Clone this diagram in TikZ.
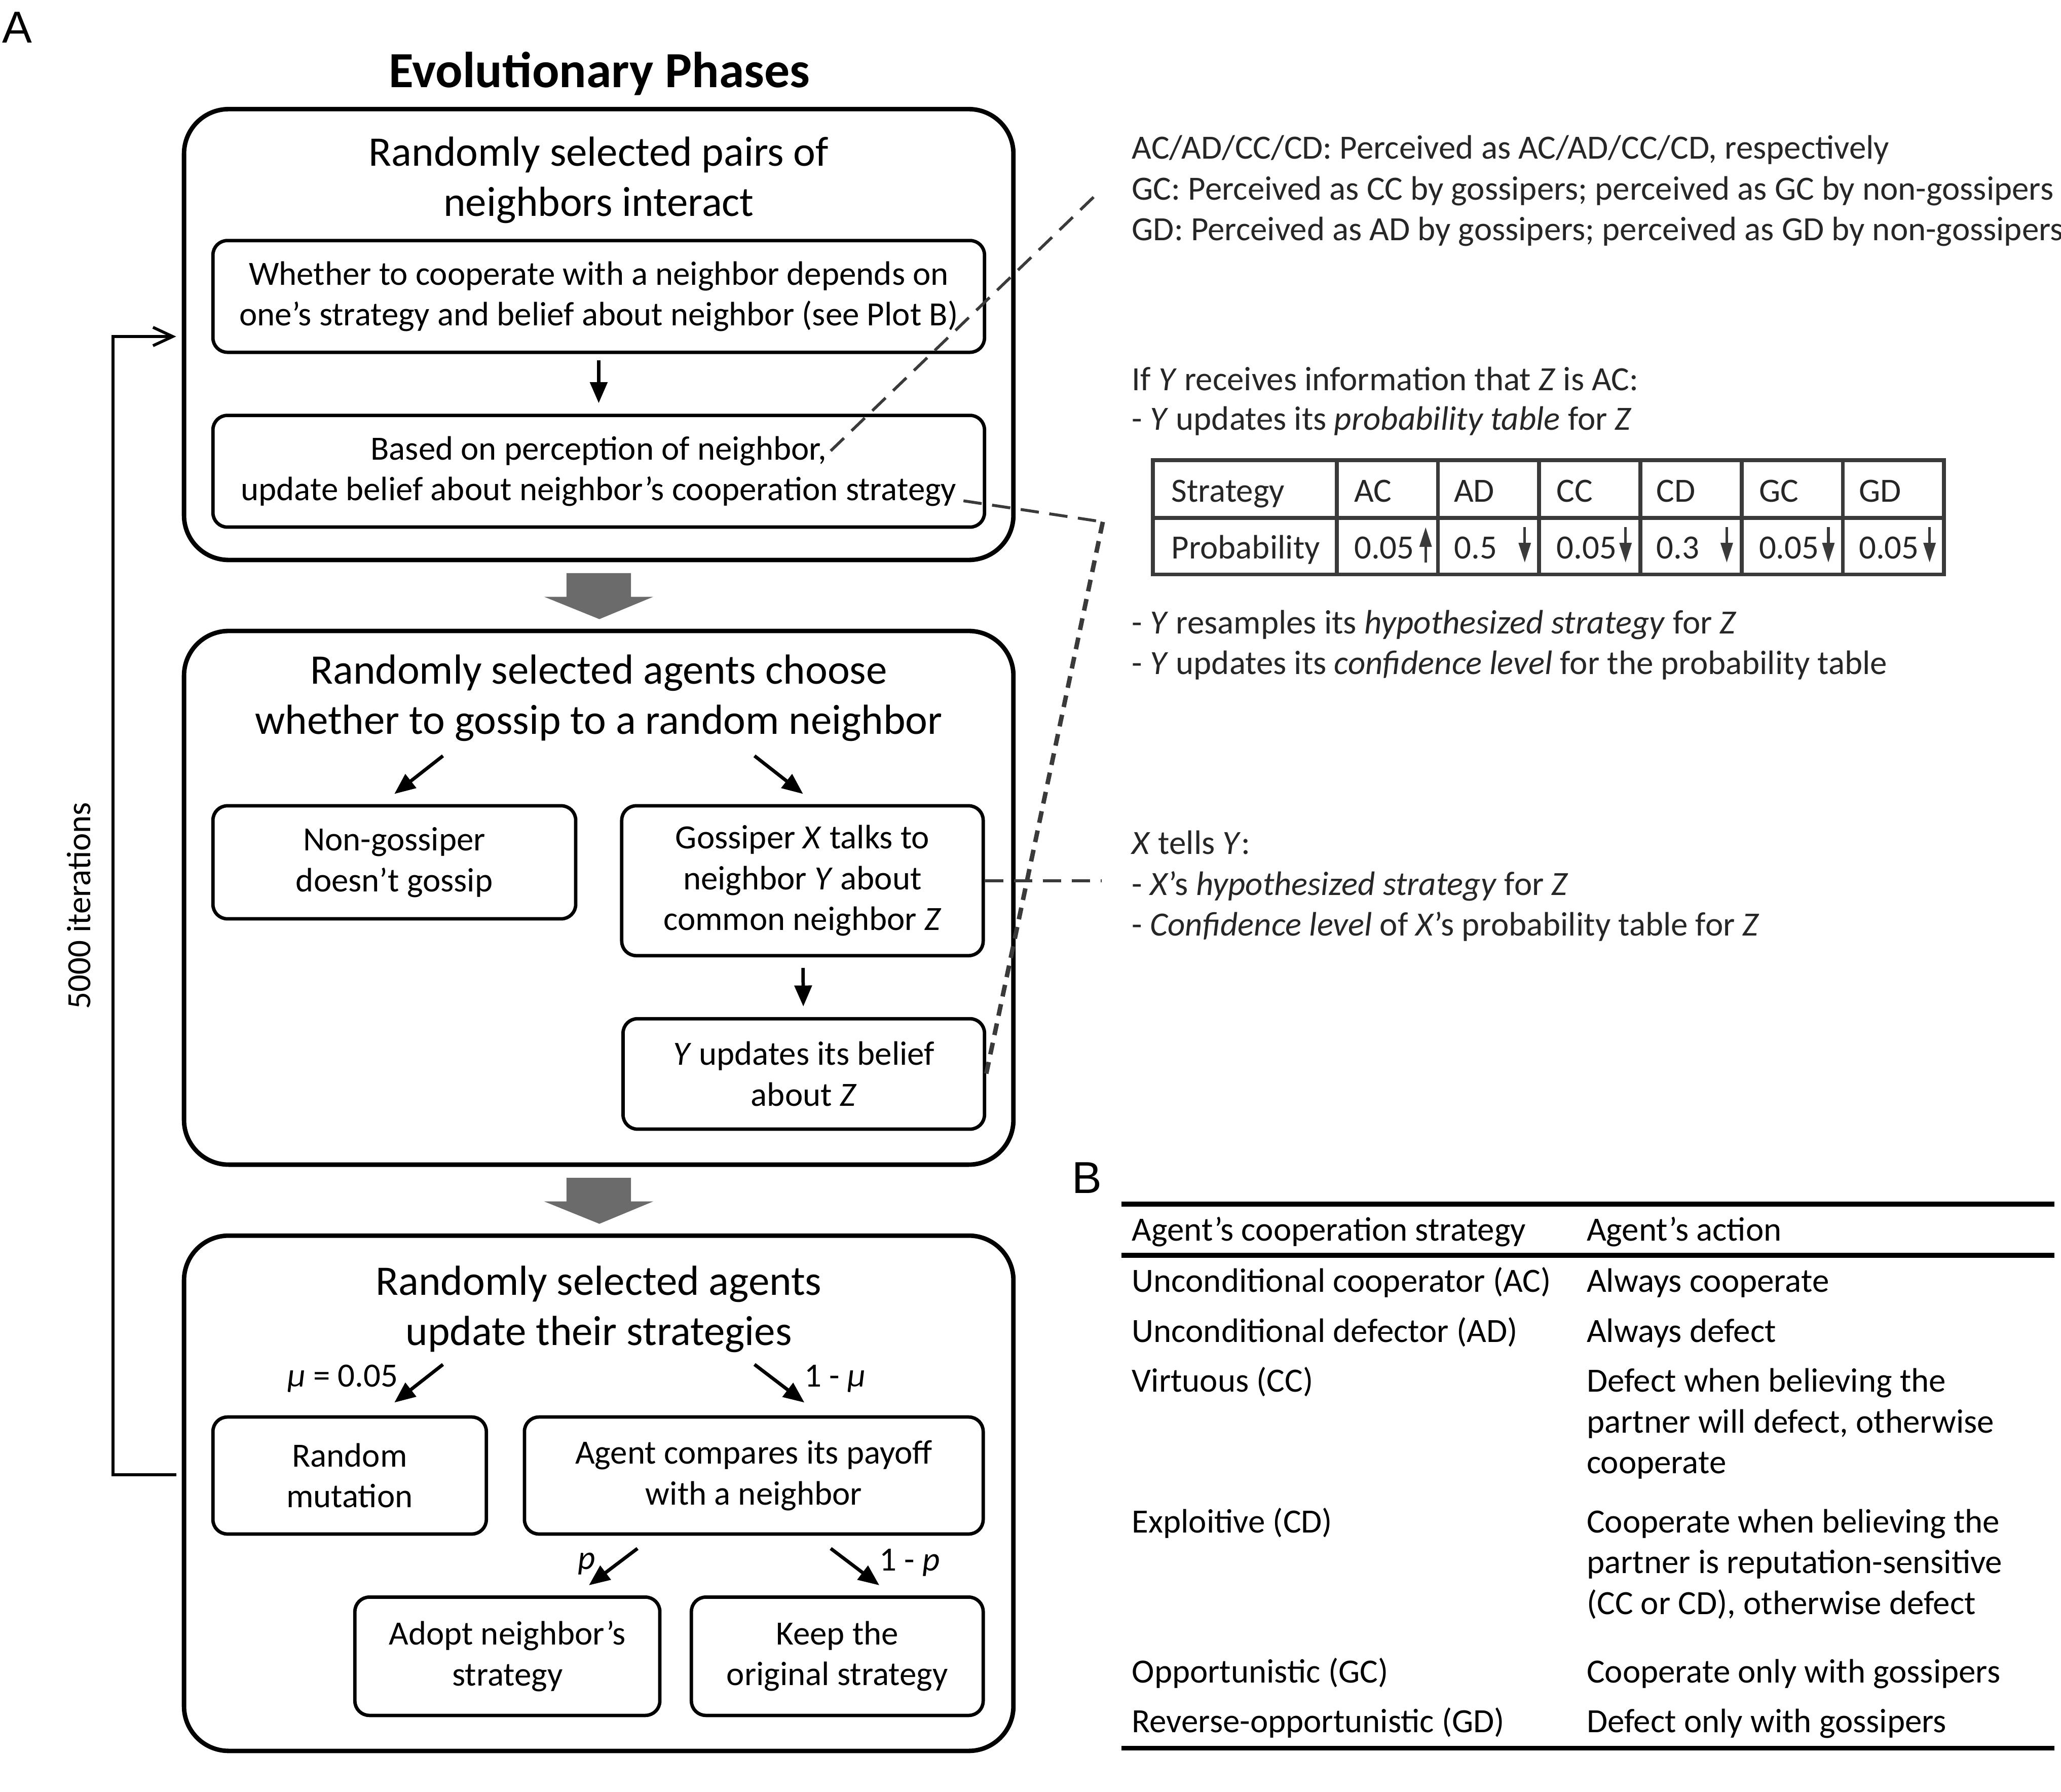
\documentclass[tikz,border=0pt]{standalone}
\usepackage{fontspec}
\setmainfont{Carlito}
\newfontfamily\panelfont{Liberation Sans}
\usetikzlibrary{arrows.meta}
\definecolor{blockgray}{RGB}{107, 107, 107}
\definecolor{notegray}{RGB}{38, 38, 38}
\definecolor{rulegray}{RGB}{58, 58, 58}

\begin{document}
\begin{tikzpicture}[x=1pt, y=-1pt,
    phase/.style={draw, line width=3.4pt, rounded corners=34pt},
    actbox/.style={draw, line width=2.6pt, rounded corners=11pt, align=center, font=\fontsize{25.8}{31}\selectfont},
    headtext/.style={align=center, font=\fontsize{32}{38}\selectfont},
    flow/.style={line width=2.6pt, -{Triangle[length=16pt, width=13pt]}},
    edgelabel/.style={inner sep=0pt, font=\fontsize{25.8}{31}\selectfont},
    note/.style={anchor=base west, inner sep=0pt, text=notegray, font=\fontsize{25.8}{31}\selectfont},
    rowtext/.style={anchor=base west, inner sep=0pt, font=\fontsize{25.8}{31}\selectfont},
    link/.style={dashed, dash pattern=on 14pt off 8pt, line width=2.2pt, draw=rulegray},
    tabrule/.style={line width=3pt, draw=rulegray},
    tabarrow/.style={line width=2pt, draw=rulegray, fill=rulegray, -{Triangle[length=15pt, width=9pt]}}]
  \useasboundingbox (0,0) rectangle (1568,1363);

  % panel labels and title
  \node[font=\panelfont\fontsize{34}{34}\selectfont] (labA) at (13,21) {A};
  \node[font=\panelfont\fontsize{34}{34}\selectfont] (labB) at (827,896) {B};
  \node[font=\bfseries\fontsize{38.5}{44}\selectfont] (title) at (456,56) {Evolutionary Phases};

  % phase 1
  \node[phase, minimum width=631pt, minimum height=343pt] (phase1) at (455.5,254.5) {};
  \node[headtext] (head1) at (455.5,137) {Randomly selected pairs of\\neighbors interact};
  \node[actbox, minimum width=587pt, minimum height=85pt] (play) at (455.5,225.5) {Whether to cooperate with a neighbor depends on\\one’s strategy and belief about neighbor (see Plot B)};
  \node[actbox, minimum width=587pt, minimum height=85pt] (perceive) at (455.5,358.5) {Based on perception of neighbor,\\update belief about neighbor’s cooperation strategy};
  \draw[flow, shorten <=5pt, shorten >=8pt] (play) -- (perceive);

  % phase 2
  \node[phase, minimum width=631pt, minimum height=406pt] (phase2) at (455.5,683) {};
  \node[headtext] (head2) at (455.5,531) {Randomly selected agents choose\\whether to gossip to a random neighbor};
  \node[actbox, minimum width=276pt, minimum height=86pt] (nongos) at (300,656) {Non-gossiper\\doesn’t gossip};
  \node[actbox, minimum width=275pt, minimum height=114pt] (gossiper) at (610.5,670) {Gossiper \textit{X} talks to\\neighbor \textit{Y} about\\common neighbor \textit{Z}};
  \node[actbox, minimum width=275pt, minimum height=84pt] (ybelief) at (611.5,817) {\textit{Y} updates its belief\\about \textit{Z}};
  \coordinate (g1s) at (337,575);
  \coordinate (g1e) at (300,604);
  \coordinate (g2s) at (574,575);
  \coordinate (g2e) at (611,604);
  \draw[flow] (g1s) -- (g1e);
  \draw[flow] (g2s) -- (g2e);
  \draw[flow, shorten <=8pt, shorten >=8pt] (gossiper) -- (ybelief);

  % phase 3
  \node[phase, minimum width=631pt, minimum height=392pt] (phase3) at (455.5,1136) {};
  \node[headtext] (head3) at (455.5,996) {Randomly selected agents\\update their strategies};
  \node[actbox, minimum width=208pt, minimum height=89pt] (mutate) at (266,1122.5) {Random\\mutation};
  \node[actbox, minimum width=349pt, minimum height=89pt] (compare) at (573.5,1122.5) {Agent compares its payoff\\with a neighbor};
  \node[actbox, minimum width=232pt, minimum height=90pt] (adopt) at (386,1260) {Adopt neighbor’s\\strategy};
  \node[actbox, minimum width=222pt, minimum height=90pt] (keep) at (637,1260) {Keep the\\original strategy};
  \coordinate (m1s) at (337,1038);
  \coordinate (m1e) at (300,1067);
  \coordinate (m2s) at (574,1038);
  \coordinate (m2e) at (612,1067);
  \coordinate (p1s) at (485,1178);
  \coordinate (p1e) at (448,1206);
  \coordinate (p2s) at (632,1178);
  \coordinate (p2e) at (669,1206);
  \draw[flow] (m1s) -- (m1e);
  \draw[flow] (m2s) -- (m2e);
  \draw[flow] (p1s) -- (p1e);
  \draw[flow] (p2s) -- (p2e);
  \node[edgelabel, anchor=base east] (mu) at (303,1055) {\textit{μ} = 0.05};
  \node[edgelabel, anchor=base west] (notmu) at (612,1055) {1 - \textit{μ}};
  \node[edgelabel, anchor=base east] (pp) at (453,1194) {\textit{p}};
  \node[edgelabel, anchor=base west] (notp) at (669,1195) {1 - \textit{p}};

  % phase arrows
  \foreach \y in {436, 896} {
    \fill[blockgray] (431,\y) -- (480,\y) -- (480,\y+18) -- (497,\y+18) -- (456,\y+35) -- (414,\y+18) -- (431,\y+18) -- cycle;
  }

  % iteration loop
  \coordinate (loopout) at (134,1122);
  \coordinate (loopin) at (134,256);
  \draw[line width=2.2pt, -{Straight Barb[length=15pt, width=14pt]}] (loopout) -- ++(-48,0) |- (loopin);
  \node[rotate=90, font=\fontsize{25.8}{26}\selectfont] (iters) at (60,689) {5000 iterations};

  % dashed links to the notes
  \coordinate (dA1) at (632,343);
  \coordinate (dA2) at (834,148);
  \coordinate (dB1) at (733,381);
  \coordinate (dB2) at (839,397);
  \coordinate (dD) at (838,670);
  \draw[link] (dA1) -- (dA2);
  \draw[link] (dB1) -- (dB2);
  \draw[link, line width=3.4pt, dash pattern=on 9pt off 6pt] (dB2) -- (ybelief.east);
  \draw[link] (gossiper.east) -- (dD);

  % notes
  \node[note] (n1) at (861,121) {AC/AD/CC/CD: Perceived as AC/AD/CC/CD, respectively};
  \node[note] (n2) at (861,152) {GC: Perceived as CC by gossipers; perceived as GC by non-gossipers};
  \node[note] (n3) at (861,183) {GD: Perceived as AD by gossipers; perceived as GD by non-gossipers};
  \node[note] (n4) at (861,297) {If \textit{Y} receives information that \textit{Z} is AC:};
  \node[note] (n5) at (861,327) {- \textit{Y} updates its \textit{probability table} for \textit{Z}};
  \node[note] (n6) at (861,482) {- \textit{Y} resamples its \textit{hypothesized strategy} for \textit{Z}};
  \node[note] (n7) at (861,513) {- \textit{Y} updates its \textit{confidence level} for the probability table};
  \node[note] (n8) at (861,650) {\textit{X} tells \textit{Y}:};
  \node[note] (n9) at (861,681) {- \textit{X}’s \textit{hypothesized strategy} for \textit{Z}};
  \node[note] (n10) at (861,712) {- \textit{Confidence level} of \textit{X}’s probability table for \textit{Z}};

  % probability table
  \draw[tabrule] (877,350) rectangle (1479,437);
  \draw[tabrule] (877,394) -- (1479,394);
  \foreach \x in {1017, 1094, 1171, 1248, 1325, 1402} {
    \draw[tabrule] (\x,350) -- (\x,437);
  }
  \node[note] (sname) at (891,382) {Strategy};
  \node[note] (pname) at (891,425) {Probability};
  \foreach \s/\p/\x [count=\i] in {AC/0.05/1030, AD/0.5/1106, CC/0.05/1184, CD/0.3/1260, GC/0.05/1338, GD/0.05/1414} {
    \node[note] (s\i) at (\x,382) {\s};
    \node[note] (p\i) at (\x,425) {\p};
  }
  \draw[tabarrow] (1084.6,428) -- (1084.6,401);
  \foreach \x in {1160, 1236.7, 1313.7, 1391, 1468} {
    \draw[tabarrow] (\x,401) -- (\x,428);
  }

  % strategy table
  \draw[line width=3.6pt] (853,916) -- (1563,916);
  \draw[line width=3.6pt] (853,955) -- (1563,955);
  \draw[line width=3.6pt] (853,1330) -- (1563,1330);
  \foreach \yy/\strat/\act [count=\i] in {
      944/{Agent’s cooperation strategy}/{Agent’s action},
      983/{Unconditional cooperator (AC)}/{Always cooperate},
      1021/{Unconditional defector (AD)}/{Always defect},
      1059/{Virtuous (CC)}/{Defect when believing the},
      1090/{}/{partner will defect, otherwise},
      1121/{}/{cooperate},
      1166/{Exploitive (CD)}/{Cooperate when believing the},
      1197/{}/{partner is reputation-sensitive},
      1228/{}/{(CC or CD), otherwise defect},
      1280/{Opportunistic (GC)}/{Cooperate only with gossipers},
      1318/{Reverse-opportunistic (GD)}/{Defect only with gossipers}} {
    \node[rowtext] (strat\i) at (861,\yy) {\strat};
    \node[rowtext] (act\i) at (1207,\yy) {\act};
  }
\end{tikzpicture}
\end{document}
